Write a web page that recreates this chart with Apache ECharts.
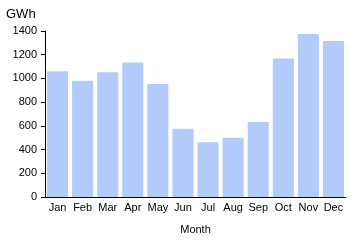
<!DOCTYPE html>
<html><head><meta charset="utf-8">
<script src="https://cdn.jsdelivr.net/npm/echarts@6/dist/echarts.min.js"></script>
<style>html,body{margin:0;padding:0;background:#fff}#c{width:360px;height:240px}</style>
</head><body><div id="c"></div>
<script>
const categories = ['Jan','Feb','Mar','Apr','May','Jun','Jul','Aug','Sep','Oct','Nov','Dec'];
const values = [1060, 980, 1052, 1135, 952, 575, 462, 500, 632, 1168, 1375, 1316];
const yTicks = [0, 200, 400, 600, 800, 1000, 1200, 1400];
const font = 'Liberation Sans, Arial, sans-serif';
const chart = echarts.init(document.getElementById('c'), null, {renderer: 'canvas'});
chart.setOption({
  animation: false,
  title: {text: 'GWh', left: 1, top: 3, textStyle: {fontFamily: font, fontSize: 13, fontWeight: 'normal', color: '#000'}},
  grid: {left: 45, right: 14, top: 31, bottom: 40},
  xAxis: {
    type: 'category', data: categories, name: 'Month', nameLocation: 'middle', nameGap: 27,
    nameTextStyle: {fontFamily: font, fontSize: 11, color: '#000'},
    axisLine: {lineStyle: {color: '#000', width: 1}}, axisTick: {show: false},
    axisLabel: {fontFamily: font, fontSize: 11, color: '#000', margin: 5, interval: 0}
  },
  yAxis: {
    type: 'value', min: yTicks[0], max: yTicks[yTicks.length-1], interval: 200,
    axisLine: {show: true, lineStyle: {color: '#000', width: 1}},
    axisTick: {show: true, length: 4, lineStyle: {color: '#000'}},
    splitLine: {show: false},
    axisLabel: {fontFamily: font, fontSize: 11, color: '#000', margin: 8, formatter: v => String(v)}
  },
  series: [{type: 'bar', data: values, barCategoryGap: '16%', itemStyle: {color: '#b3cafc'}}]
});
</script></body></html>
